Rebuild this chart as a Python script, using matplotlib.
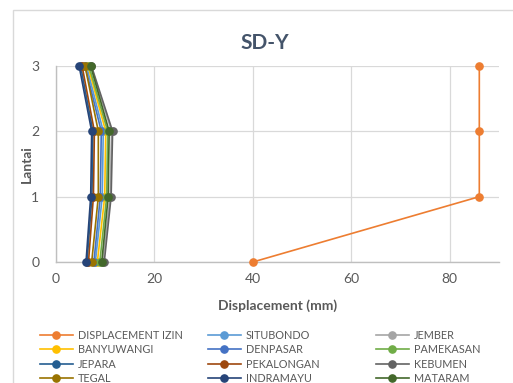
import matplotlib
matplotlib.use("Agg")
import matplotlib.pyplot as plt
from matplotlib.patches import Rectangle

plt.rcParams['font.family'] = ['Lato', 'DejaVu Sans']

lantai = [0, 1, 2, 3]
names = ["DISPLACEMENT IZIN", "SITUBONDO", "JEMBER",
         "BANYUWANGI", "DENPASAR", "PAMEKASAN",
         "JEPARA", "PEKALONGAN", "KEBUMEN",
         "TEGAL", "INDRAMAYU", "MATARAM"]
colors = ["#ED7D31", "#5B9BD5", "#A5A5A5",
          "#FFC000", "#4472C4", "#70AD47",
          "#255E91", "#9E480E", "#636363",
          "#997300", "#264478", "#43682B"]

displacement_izin = [40, 86, 86, 86]
situbondo = [8.0, 9.4, 9.6, 6.2]
jember = [9.5, 11.0, 11.3, 7.1]
banyuwangi = [8.4, 9.9, 10.1, 6.5]
denpasar = [7.7, 9.0, 9.2, 5.9]
pamekasan = [8.9, 10.3, 10.5, 6.7]
jepara = [6.3, 7.3, 7.5, 5.0]
pekalongan = [6.6, 7.6, 7.8, 5.3]
kebumen = [9.8, 11.2, 11.5, 7.2]
tegal = [7.25, 8.6, 8.6, 5.9]
indramayu = [6.1, 7.05, 7.25, 4.7]
mataram = [9.3, 10.6, 10.8, 7.05]

series = [displacement_izin, situbondo, jember, banyuwangi, denpasar, pamekasan,
          jepara, pekalongan, kebumen, tegal, indramayu, mataram]

W, H = 513, 383
fig = plt.figure(figsize=(W / 100, H / 100), dpi=100)
fig.patch.set_facecolor('white')
fig.add_artist(Rectangle((13 / W, -0.1), 1.2, 1 - 10 / H + 0.1, transform=fig.transFigure,
                         fill=False, edgecolor='#D9D9D9', linewidth=1.0))

ax = fig.add_axes([56 / W, 1 - 262 / H, (499 - 56) / W, (262 - 66) / H])
handles = []
for vals, c, n in zip(series, colors, names):
    h, = ax.plot(vals, lantai, color=c, marker='o', markersize=5.2, linewidth=1.2,
                 label=n, clip_on=False, zorder=3)
    handles.append(h)

ax.set_xlim(0, 90)
ax.set_ylim(0, 3)
ax.set_xticks([0, 20, 40, 60, 80])
ax.set_yticks([0, 1, 2, 3])
ax.grid(True, color='#D9D9D9', linewidth=0.9)
ax.set_axisbelow(True)
for s in ['top', 'right']:
    ax.spines[s].set_visible(False)
for s in ['left', 'bottom']:
    ax.spines[s].set_color('#BFBFBF')
    ax.spines[s].set_linewidth(1.0)
ax.tick_params(axis='x', length=0, labelsize=10, colors='#595959', pad=8)
ax.tick_params(axis='y', length=0, labelsize=10, colors='#595959', pad=12)
ax.set_xlabel("Displacement (mm)", fontsize=10, fontweight='bold', color='#595959', labelpad=10)
ax.yaxis.set_label_coords(-(56 - 27) / (499 - 56), (262 - 163) / (262 - 66))
ax.set_ylabel("Lantai", fontsize=10, fontweight='bold', color='#595959', va='center')
fig.text(265 / W, 1 - 43 / H, "SD-Y", ha='center', va='center', fontsize=15,
         fontweight='bold', color='#44546A')

colx = [40 / W, 208 / W, 376 / W]
for ci in range(3):
    hs = [handles[ci + 3 * r] for r in range(4)]
    ls = [names[ci + 3 * r] for r in range(4)]
    fig.legend(hs, ls, loc='upper left', bbox_to_anchor=(colx[ci], 1 - 330 / H),
               ncol=1, frameon=False, fontsize=7.8, handlelength=3.0, handletextpad=0.5,
               labelspacing=0.3, borderpad=0, borderaxespad=0, labelcolor='#595959')

fig.savefig("out.png", dpi=100)
